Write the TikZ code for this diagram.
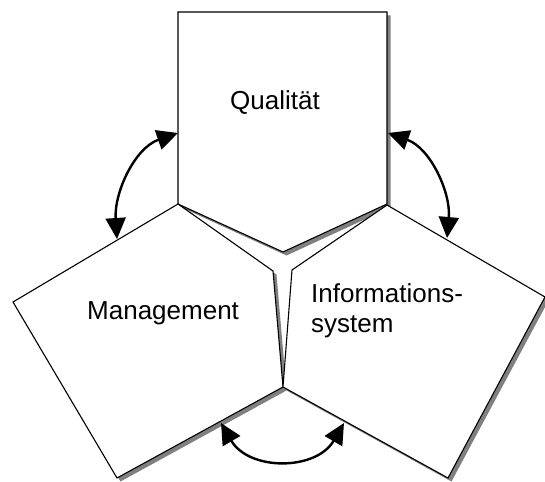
\documentclass[tikz,border=0pt]{standalone}
\usepackage{fontspec}
\setmainfont{Liberation Sans}
\usetikzlibrary{arrows.meta}
\definecolor{shadowgray}{RGB}{128,128,128}
\begin{document}
\begin{tikzpicture}[x=1pt,y=-1pt,
  panel/.style={draw=black,line width=1.1pt,fill=white,line join=miter},
  dropshadow/.style={fill=shadowgray},
  link/.style={line width=2.4pt,{Triangle[length=21pt,width=20pt]}-{Triangle[length=21pt,width=20pt]}},
  lbl/.style={font=\fontsize{26}{30}\selectfont,inner sep=0pt,anchor=base west}]
\useasboundingbox (0,0) rectangle (545,481);
% vertices
\coordinate (q1) at (178,12);  \coordinate (q2) at (387,12);
\coordinate (q3) at (387,204); \coordinate (q4) at (283,252);
\coordinate (q5) at (178,204);
\coordinate (m2) at (13,302);  \coordinate (m3) at (117,478);
\coordinate (m4) at (283,387); \coordinate (m5) at (273,271);
\coordinate (i1) at (387,205); \coordinate (i2) at (545,297);
\coordinate (i3) at (448,478); \coordinate (i5) at (292,270);
% top panel
\fill[dropshadow] ([shift={(3.5,3.5)}]q1) -- ([shift={(3.5,3.5)}]q2) -- ([shift={(3.5,3.5)}]q3) -- ([shift={(3.5,3.5)}]q4) -- ([shift={(3.5,3.5)}]q5) -- cycle;
\draw[panel] (q1) -- (q2) -- (q3) -- (q4) -- (q5) -- cycle;
% management panel
\fill[dropshadow] ([shift={(3.5,3.5)}]q5) -- ([shift={(3.5,3.5)}]m2) -- ([shift={(3.5,3.5)}]m3) -- ([shift={(3.5,3.5)}]m4) -- ([shift={(3.5,3.5)}]m5) -- cycle;
\draw[panel] (q5) -- (m2) -- (m3) -- (m4) -- (m5) -- cycle;
% info panel
\fill[dropshadow] ([shift={(3.5,3.5)}]i1) -- ([shift={(3.5,3.5)}]i2) -- ([shift={(3.5,3.5)}]i3) -- ([shift={(3.5,3.5)}]m4) -- ([shift={(3.5,3.5)}]i5) -- cycle;
\draw[panel] (i1) -- (i2) -- (i3) -- (m4) -- (i5) -- cycle;
% labels
\node[lbl] (qual) at (230,110) {Qualität};
\node[lbl] (mgmt) at (87,319) {Management};
\node[lbl] (info1) at (311,302) {Informations-};
\node[lbl] (info2) at (311,332) {system};
% arrows
\coordinate (a1) at (178,133); \coordinate (a2) at (117,239);
\coordinate (b1) at (388,133); \coordinate (b2) at (447,238);
\coordinate (c1) at (221,423); \coordinate (c2) at (344,423);
\draw[link] (a1) .. controls (134.5,148) and (114,193) .. (a2);
\draw[link] (b1) .. controls (430.5,148) and (451,193) .. (b2);
\draw[link] (c1) .. controls (249,471) and (316,471) .. (c2);
\end{tikzpicture}
\end{document}
